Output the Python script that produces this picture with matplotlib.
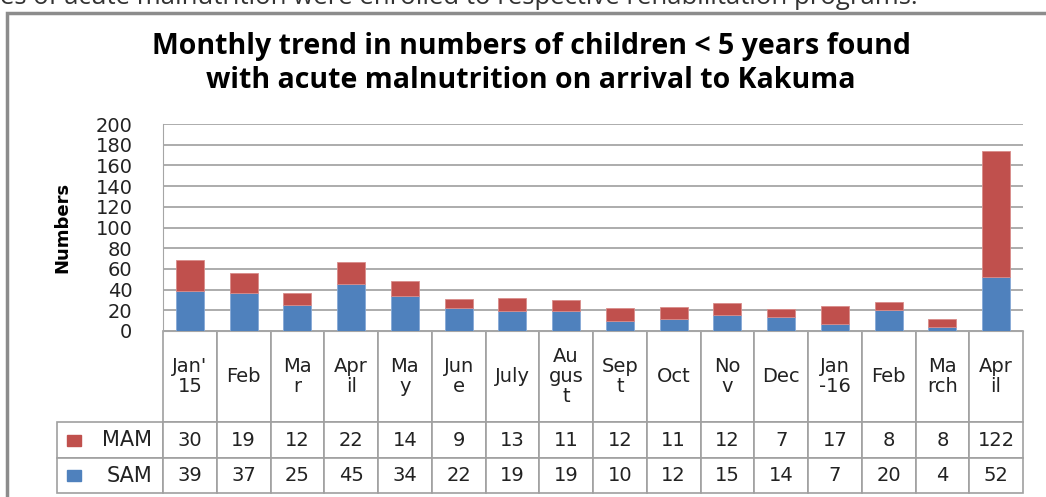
import matplotlib.pyplot as plt
from matplotlib.patches import Rectangle
from matplotlib.table import Table

# categories as wrapped in the original table
months = ["Jan'\n15", "Feb", "Ma\nr", "Apr\nil", "Ma\ny", "Jun\ne", "July", "Au\ngus\nt",
          "Sep\nt", "Oct", "No\nv", "Dec", "Jan\n-16", "Feb", "Ma\nrch", "Apr\nil"]
mam = [30, 19, 12, 22, 14, 9, 13, 11, 12, 11, 12, 7, 17, 8, 8, 122]
sam = [39, 37, 25, 45, 34, 22, 19, 19, 10, 12, 15, 14, 7, 20, 4, 52]
series_names = ["MAM", "SAM"]

mam_color = "#C0504D"
sam_color = "#4F81BD"
grid_color = "#a6a6a6"

W, H = 1046, 497
AXW, AXH = 860, 207  # plot area in pixels
fig = plt.figure(figsize=(W / 100, H / 100), dpi=100)
ax = fig.add_axes([163 / W, 1 - 331 / H, AXW / W, AXH / H])

x = range(len(months))
ax.bar(x, sam, width=0.52, color=sam_color, edgecolor="#86a9d6", linewidth=0.6, zorder=3)
ax.bar(x, mam, bottom=sam, width=0.52, color=mam_color, edgecolor="#d98c8a", linewidth=0.6, zorder=3)

ax.set_xlim(-0.5, len(months) - 0.5)
ax.set_ylim(0, 200)
ax.set_yticks(range(0, 201, 20))
ax.set_xticks([])
ax.yaxis.grid(True, color=grid_color, linewidth=1.3)
ax.set_axisbelow(True)
for s in ["top", "right"]:
    ax.spines[s].set_visible(False)
ax.spines["left"].set_color(grid_color)
ax.spines["bottom"].set_color(grid_color)
ax.tick_params(axis="y", length=0, pad=22, labelsize=14, labelcolor="#222222")
ax.set_ylabel("Numbers", fontsize=13, fontweight="bold")
ax.yaxis.set_label_coords(-0.106, 0.5)

# data table under the bars, built cell by cell (sizes in axes fractions)
lab_w = 106 / AXW
col_w = 1 / len(months)
row_h = [91 / AXH, 36 / AXH, 35 / AXH]
tbl = Table(ax, bbox=[-lab_w, -sum(row_h), 1 + lab_w, sum(row_h)])
for j, m in enumerate(months):
    tbl.add_cell(0, j + 1, col_w, row_h[0], text=m, loc="center")
for i, (name, vals) in enumerate(zip(series_names, [mam, sam])):
    tbl.add_cell(i + 1, 0, lab_w, row_h[i + 1], text=name, loc="right")
    for j, v in enumerate(vals):
        tbl.add_cell(i + 1, j + 1, col_w, row_h[i + 1], text=str(v), loc="center")
tbl.auto_set_font_size(False)
tbl.set_fontsize(14)
for (r, c), cell in tbl.get_celld().items():
    cell.set_edgecolor("#a0a0a0")
    cell.set_linewidth(1.2)
    cell.get_text().set_color("#222222")
    cell.get_text().set_linespacing(1.05)
    if c == 0:
        cell.get_text().set_fontsize(15)
ax.add_table(tbl)

# legend keys in the row labels
for yc, col in [((331 - 440) / AXH, mam_color), ((331 - 475.5) / AXH, sam_color)]:
    ax.add_patch(Rectangle(((67 - 163) / AXW, yc - 5.5 / AXH), 14 / AXW, 11 / AXH,
                           transform=ax.transAxes, color=col, clip_on=False))

# chart frame
fig.add_artist(Rectangle((7 / W, -0.1), 1.1, 1.1 - 13 / H, transform=fig.transFigure,
                         fill=False, edgecolor="#8c8c8c", linewidth=2.5))

fig.text(531 / W, 1 - 54 / H, "Monthly trend in numbers of children < 5 years found",
         ha="center", va="baseline", fontsize=20.5, fontweight="bold", family="Open Sans")
fig.text(531 / W, 1 - 88 / H, "with acute malnutrition on arrival to Kakuma",
         ha="center", va="baseline", fontsize=20.5, fontweight="bold", family="Open Sans")

fig.text(0, 1 - 4.5 / H, "es of acute malnutrition were enrolled to respective rehabilitation programs.",
         ha="left", va="baseline", fontsize=18.5, family="Open Sans", color="#333333")

fig.savefig("out.png", dpi=100)
